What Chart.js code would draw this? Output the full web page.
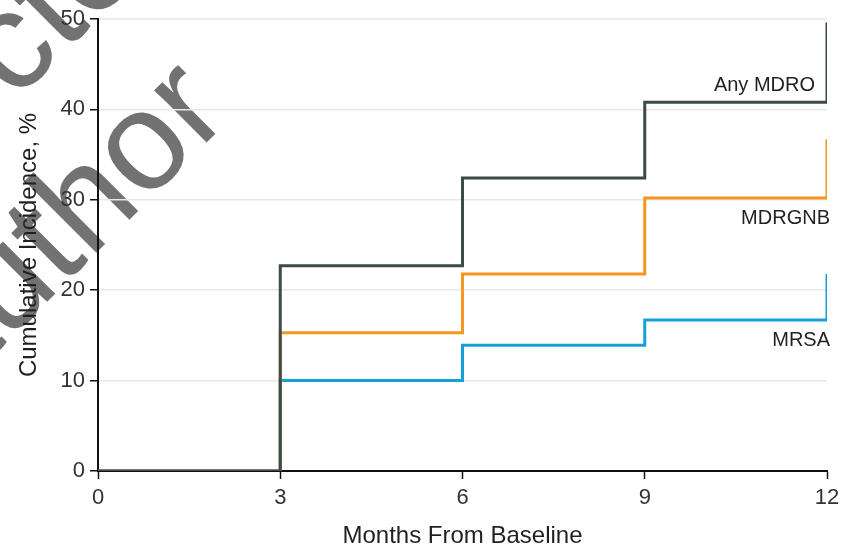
<!DOCTYPE html>
<html>
<head>
<meta charset="utf-8">
<title>Cumulative incidence</title>
<script src="https://cdn.jsdelivr.net/npm/chart.js@4.4.1/dist/chart.umd.min.js"></script>
<style>
  html, body { margin: 0; padding: 0; background: #fff; }
  #wrap { width: 850px; height: 551px; }
</style>
</head>
<body>
<div id="wrap"><canvas id="incidenceChart" width="850" height="551"></canvas></div>
<script>
// months from baseline
const months = [0, 3, 6, 9, 12];
const xTicks = [0, 3, 6, 9, 12];
const yTicks = [0, 10, 20, 30, 40, 50];

// cumulative incidence, %
const seriesNames = ['Any MDRO', 'MDRGNB', 'MRSA'];
const anyMdro = [0, 22.7, 32.4, 40.8, 49.6];
const mdrgnb = [0, 15.3, 21.8, 30.2, 36.7];
const mrsa = [0, 10.0, 13.9, 16.7, 21.8];
const seriesColors = ['#3b4b48', '#f7961c', '#16a0da'];

const textColor = '#231f20';
Chart.defaults.font.family = '"Liberation Sans", Arial, sans-serif';
Chart.defaults.color = textColor;

function toPoints(values) {
    return months.map((m, i) => ({ x: m, y: values[i] }));
}

// faint watermark behind the plot
const watermark = {
    id: 'watermark',
    beforeDraw(chart) {
        const ctx = chart.ctx;
        ctx.save();
        ctx.translate(7, 342);
        ctx.rotate(-Math.PI / 4);
        ctx.font = '140px "Liberation Sans", Arial, sans-serif';
        ctx.fillStyle = '#727272';
        ctx.textBaseline = 'alphabetic';
        ctx.textAlign = 'left';
        ctx.fillText('by author', -ctx.measureText('by a').width, 0);
        ctx.fillText('Corrected', 97 - ctx.measureText('Corr').width, -164);
        ctx.restore();
    }
};

// series names written at the right end of each curve
const endLabels = {
    id: 'endLabels',
    afterDatasetsDraw(chart) {
        const ctx = chart.ctx;
        const xs = chart.scales.x, ys = chart.scales.y;
        const place = [{ dx: -12, dy: -17 }, { dx: 3, dy: 20 }, { dx: 3, dy: 20 }];
        ctx.save();
        ctx.font = '20px "Liberation Sans", Arial, sans-serif';
        ctx.fillStyle = textColor;
        ctx.textAlign = 'right';
        ctx.textBaseline = 'middle';
        chart.data.datasets.forEach((ds, i) => {
            const pts = ds.data;
            const y = ys.getPixelForValue(pts[pts.length - 2].y);
            const x = xs.getPixelForValue(months[months.length - 1]);
            ctx.fillText(ds.label, x + place[i].dx, y + place[i].dy);
        });
        ctx.restore();
    }
};

const allSeries = [anyMdro, mdrgnb, mrsa];

const ctx = document.getElementById('incidenceChart');
new Chart(ctx, {
    type: 'line',
    data: {
        datasets: allSeries.map((vals, i) => ({
            label: seriesNames[i],
            data: toPoints(vals),
            borderColor: seriesColors[i],
            backgroundColor: seriesColors[i],
            borderWidth: 3,
            stepped: 'before',
            pointRadius: 0,
            fill: false
        }))
    },
    options: {
        responsive: false,
        animation: false,
        layout: { padding: { top: 19, right: 23, left: 0, bottom: 0 } },
        plugins: {
            legend: { display: false },
            tooltip: { enabled: false }
        },
        scales: {
            x: {
                type: 'linear',
                min: 0,
                max: 12,
                afterBuildTicks: (scale) => { scale.ticks = xTicks.map(v => ({ value: v })); },
                afterFit: (scale) => { scale.height = 80; },
                grid: {
                    drawOnChartArea: false,
                    tickLength: 8,
                    tickColor: '#111',
                    tickWidth: 1.5
                },
                border: { color: '#111', width: 2 },
                ticks: {
                    padding: 6,
                    color: '#333',
                    font: { size: 22 },
                    maxRotation: 0
                },
                title: {
                    display: true,
                    text: 'Months From Baseline',
                    color: textColor,
                    font: { size: 24 },
                    padding: { top: 0, bottom: 0 }
                }
            },
            y: {
                type: 'linear',
                min: 0,
                max: 50,
                afterBuildTicks: (scale) => { scale.ticks = yTicks.map(v => ({ value: v })); },
                afterFit: (scale) => { scale.width = 98; },
                grid: {
                    color: '#e8e8e8',
                    lineWidth: 1.5,
                    tickLength: 8,
                    tickColor: '#111',
                    tickWidth: 1.5
                },
                border: { color: '#111', width: 2 },
                ticks: {
                    padding: 5,
                    color: '#333',
                    font: { size: 22 }
                },
                title: {
                    display: true,
                    text: 'Cumulative Incidence, %',
                    color: textColor,
                    font: { size: 24 },
                    padding: { top: 15, bottom: 0 }
                }
            }
        }
    },
    plugins: [watermark, endLabels]
});
</script>
</body>
</html>
